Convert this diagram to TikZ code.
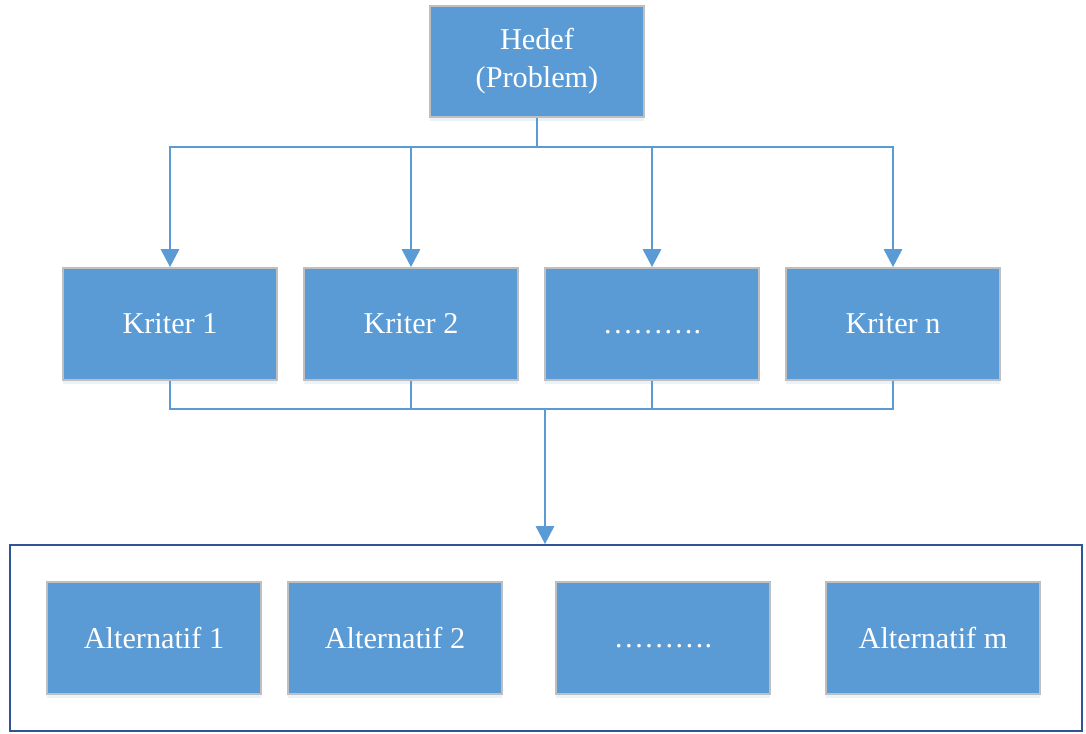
\documentclass[tikz,border=0pt]{standalone}
\usepackage{fontspec}
\setmainfont{Liberation Serif}
\usetikzlibrary{arrows.meta,shadows}
\definecolor{boxblue}{RGB}{91,155,213}
\definecolor{boxedge}{RGB}{191,191,191}
\definecolor{frameblue}{RGB}{47,85,151}
\tikzset{
	kutu/.style = {draw = boxedge, line width = 1.2pt, fill = boxblue, text = white,
		minimum width = 5.35cm, minimum height = 2.8cm, inner sep = 0pt,
		align = center, font = \fontsize{21.5}{27}\selectfont,
		drop shadow = {opacity = 0.12, fill = boxblue, shadow xshift = 0pt, shadow yshift = -3pt}},
	bag/.style = {draw = boxblue, line width = 2.1pt},
	ok/.style = {bag, -{Triangle[length = 0.45cm, width = 0.45cm]}}
}
\begin{document}
\begin{tikzpicture}[x = 0.025cm, y = -0.025cm]
	\useasboundingbox (0,0) rectangle (1086,733);
	% hedef
	\node [kutu, minimum height = 2.775cm] (hedef) at (537,61.5) {Hedef\\(Problem)};
	% kriterler
	\node [kutu] (k1) at (170,324) {Kriter 1};
	\node [kutu] (k2) at (411,324) {Kriter 2};
	\node [kutu] (k3) at (652,324) {\vphantom{K}……….};
	\node [kutu] (kn) at (893,324) {Kriter n};
	% alternatifler
	\node [draw = frameblue, line width = 1.2pt, minimum width = 26.8cm, minimum height = 4.65cm] (cerceve) at (546,638) {};
	\node [kutu] (a1) at (154,638) {Alternatif 1};
	\node [kutu] (a2) at (395,638) {Alternatif 2};
	\node [kutu] (a3) at (663,638) {\vphantom{K}……….};
	\node [kutu] (am) at (933,638) {Alternatif m};
	% baglantilar
	\coordinate (ust) at (537,147);
	\coordinate (alt) at (545,409);
	\draw [bag] (hedef.south) -- (ust);
	\draw [ok] (ust) -| (k1.north);
	\draw [ok] (ust) -| (k2.north);
	\draw [ok] (ust) -| (k3.north);
	\draw [ok] (ust) -| (kn.north);
	\draw [bag] (k1.south) |- (alt);
	\draw [bag] (k2.south) |- (alt);
	\draw [bag] (k3.south) |- (alt);
	\draw [bag] (kn.south) |- (alt);
	\draw [ok] (alt) -- (alt |- cerceve.north);
\end{tikzpicture}
\end{document}
